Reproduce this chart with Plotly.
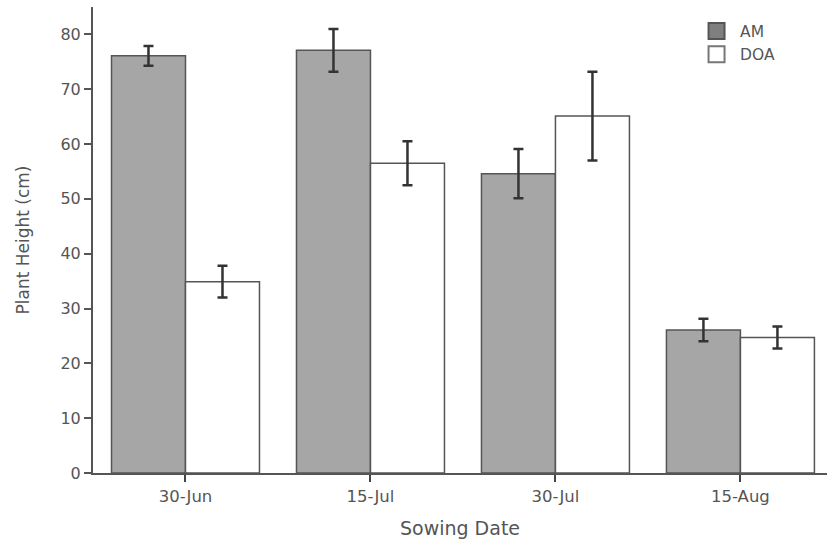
import plotly.graph_objects as go

categories = ["30-Jun", "15-Jul", "30-Jul", "15-Aug"]
am_values = [76.1, 77.1, 54.6, 26.1]
am_errors = [1.8, 3.9, 4.5, 2.05]
doa_values = [34.9, 56.5, 65.1, 24.7]
doa_errors = [2.9, 4.0, 8.1, 2.0]
y_ticks = [0, 10, 20, 30, 40, 50, 60, 70, 80]

FONT = "DejaVu Sans"
x_idx = list(range(len(categories)))

fig = go.Figure()
fig.add_trace(go.Bar(
    x=x_idx, y=am_values, name="AM", showlegend=False,
    marker=dict(color="#a6a6a6", line=dict(color="#555555", width=1.5)),
    error_y=dict(type="data", array=am_errors, visible=True, color="#333333", thickness=2.5, width=5),
))
fig.add_trace(go.Bar(
    x=x_idx, y=doa_values, name="DOA", showlegend=False,
    marker=dict(color="#ffffff", line=dict(color="#555555", width=1.5)),
    error_y=dict(type="data", array=doa_errors, visible=True, color="#333333", thickness=2.5, width=5),
))
# legend entries
fig.add_trace(go.Scatter(x=[None], y=[None], mode="markers", name="AM",
                         marker=dict(symbol="square", size=17, color="#7f7f7f",
                                     line=dict(color="#555555", width=2))))
fig.add_trace(go.Scatter(x=[None], y=[None], mode="markers", name="DOA",
                         marker=dict(symbol="square", size=17, color="#ffffff",
                                     line=dict(color="#777777", width=2))))

fig.update_layout(
    width=827, height=542,
    margin=dict(l=93, r=0, t=7, b=69),
    barmode="group", bargap=0.2, bargroupgap=0,
    plot_bgcolor="white", paper_bgcolor="white",
    font=dict(family=FONT, color="#555555", size=16),
    legend=dict(x=0.8175, y=0.984, xanchor="left", yanchor="top",
                font=dict(family=FONT, size=15.5, color="#555555"),
                bgcolor="rgba(0,0,0,0)", itemsizing="trace", tracegroupgap=0,
                itemwidth=37),
    xaxis=dict(
        tickmode="array", tickvals=x_idx, ticktext=categories,
        range=[-0.5, 3.468],
        showline=True, linecolor="#555555", linewidth=2,
        ticks="outside", ticklen=7, tickcolor="#444444", tickwidth=1.5,
        tickfont=dict(family=FONT, size=16.5, color="#555555"),
        showgrid=False, zeroline=False,
        title=dict(text="Sowing Date", font=dict(family=FONT, size=19, color="#555555"), standoff=17),
    ),
    yaxis=dict(
        range=[0, 85], tickvals=y_ticks,
        showline=True, linecolor="#555555", linewidth=2,
        ticks="outside", ticklen=7, tickcolor="#555555", tickwidth=1.5,
        tickfont=dict(family=FONT, size=16, color="#555555"),
        showgrid=False, zeroline=False,
        title=dict(text="Plant Height (cm)", font=dict(family=FONT, size=17, color="#555555"), standoff=26),
    ),
)

fig.write_html("out.html", config={"displayModeBar": False},
               post_script="document.body.style.margin='0';document.body.style.overflow='hidden';")
